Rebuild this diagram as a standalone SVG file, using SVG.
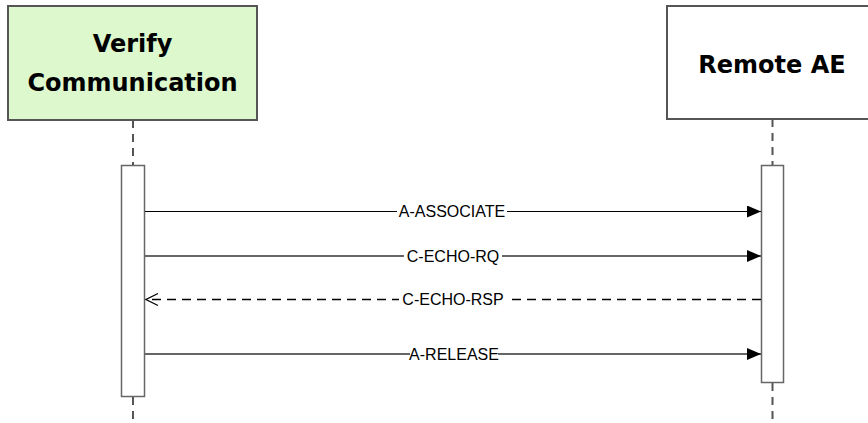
<svg xmlns="http://www.w3.org/2000/svg" width="868" height="423" viewBox="0 0 868 423">
  <defs>
    <marker id="solidHead" viewBox="0 0 14 12" refX="14" refY="6" markerWidth="14" markerHeight="12" markerUnits="userSpaceOnUse" orient="auto">
      <path d="M0,0 L14,6 L0,12 Z" fill="#000"/>
    </marker>
    <marker id="openHead" viewBox="0 0 14 14" refX="13" refY="7" markerWidth="14" markerHeight="14" markerUnits="userSpaceOnUse" orient="auto">
      <path d="M1,1 L13,7 L1,13" fill="none" stroke="#000" stroke-width="1.2"/>
    </marker>
  </defs>
  <style>
    .box { stroke: #555; stroke-width: 2; }
    .title { font-family: "DejaVu Sans", Verdana, sans-serif; font-weight: bold; font-size: 24px; fill: #000; text-anchor: middle; }
    .lifeline { stroke: #555; stroke-width: 2; stroke-dasharray: 8 6; fill: none; }
    .activation { fill: #fff; stroke: #666; stroke-width: 1.5; }
    .msg { stroke: #000; stroke-width: 1; fill: none; }
    .soft { stroke: #666; stroke-width: 2; }
    .dashed { stroke-width: 1.3; stroke-dasharray: 9 6; }
    .label { font-family: "Liberation Sans", Arial, sans-serif; font-size: 16px; fill: #000; text-anchor: middle; }
    .labelbg { fill: #fff; }
  </style>
  <rect width="868" height="423" fill="#fff"/>

  <!-- lifelines -->
  <g id="lifelines">
    <line class="lifeline" x1="133" y1="120" x2="133" y2="165"/>
    <line class="lifeline" x1="133" y1="397" x2="133" y2="423"/>
    <line class="lifeline" x1="772.5" y1="119" x2="772.5" y2="165"/>
    <line class="lifeline" x1="772.5" y1="383" x2="772.5" y2="423"/>
  </g>

  <g id="verify-communication">
    <rect class="box" x="8" y="6" width="249" height="114" fill="#dcf8cc"/>
    <text class="title" x="132.5" y="52">Verify</text>
    <text class="title" x="132.5" y="91">Communication</text>
    <rect class="activation" x="121.5" y="165.5" width="23" height="231"/>
  </g>

  <g id="remote-ae">
    <rect class="box" x="667" y="6" width="210" height="113" fill="#fff"/>
    <text class="title" x="772" y="73">Remote AE</text>
    <rect class="activation" x="761.5" y="165.5" width="22" height="217"/>
  </g>

  <g id="connectors">
    <line class="msg" x1="145" y1="211.5" x2="761" y2="211.5" marker-end="url(#solidHead)"/>
    <line class="msg soft" x1="145" y1="256" x2="761" y2="256" marker-end="url(#solidHead)"/>
    <line class="msg dashed" x1="761" y1="299.5" x2="146" y2="299.5" marker-end="url(#openHead)"/>
    <line class="msg soft" x1="145" y1="354" x2="761" y2="354" marker-end="url(#solidHead)"/>
  </g>

  <g id="labels">
    <rect class="labelbg" x="397" y="203" width="110" height="16"/>
    <text class="label" x="452" y="217">A-ASSOCIATE</text>
    <rect class="labelbg" x="404" y="248" width="98" height="16"/>
    <text class="label" x="453" y="262">C-ECHO-RQ</text>
    <rect class="labelbg" x="399" y="291" width="108" height="16"/>
    <text class="label" x="453" y="305">C-ECHO-RSP</text>
    <rect class="labelbg" x="410" y="346" width="88" height="16"/>
    <text class="label" x="454" y="360">A-RELEASE</text>
  </g>
</svg>
